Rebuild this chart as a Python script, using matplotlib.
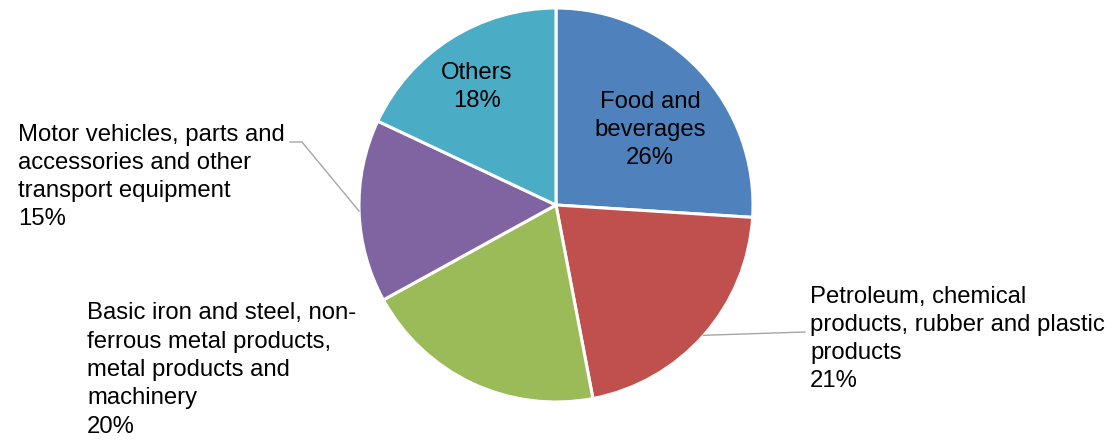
import matplotlib
matplotlib.use("Agg")
import matplotlib.pyplot as plt
import numpy as np

categories = [
    "Food and\nbeverages",
    "Petroleum, chemical\nproducts, rubber and plastic\nproducts",
    "Basic iron and steel, non-\nferrous metal products,\nmetal products and\nmachinery",
    "Motor vehicles, parts and\naccessories and other\ntransport equipment",
    "Others",
]
shares = [26, 21, 20, 15, 18]
colors = ["#4F81BD", "#C0504D", "#9BBB59", "#8064A2", "#4BACC6"]

W, H = 1115, 440
fig = plt.figure(figsize=(11.15, 4.4), dpi=100)
ax = fig.add_axes([0, 0, 1, 1])
cx, cy, R = 556, 205, 197

wedges, _ = ax.pie(shares, colors=colors, startangle=90, counterclock=False,
                   center=(cx, H - cy), radius=R,
                   wedgeprops=dict(edgecolor="white", linewidth=2.2))
ax.set_xlim(0, W)
ax.set_ylim(0, H)
ax.set_aspect("equal")
ax.axis("off")

FONT = ["Liberation Sans", "DejaVu Sans"]
FS = 17.2
LS = 1.37

def lab(i):
    return f"{categories[i]}\n{shares[i]}%"

def edge_point(i, r=R):
    w = wedges[i]
    mid = np.deg2rad((w.theta1 + w.theta2) / 2)
    return cx + r * np.cos(mid), (H - cy) + r * np.sin(mid)

# inside labels
ax.text(650, H - 130, lab(0), ha="center", va="center", fontsize=FS,
        family=FONT, linespacing=LS, color="black")
ax.text(477, H - 87, lab(4), ha="center", va="center", fontsize=FS,
        family=FONT, linespacing=LS, color="black")

# outside labels
ax.text(810, H - 339, lab(1), ha="left", va="center", fontsize=FS,
        family=FONT, linespacing=LS, color="black")
ax.text(87, H - 370, lab(2), ha="left", va="center", fontsize=FS,
        family=FONT, linespacing=LS, color="black")
ax.text(18, H - 177, lab(3), ha="left", va="center", fontsize=FS,
        family=FONT, linespacing=LS, color="black")

# leader lines
lc = "#A6A6A6"
px, py = edge_point(1)
ax.plot([px, 805], [py, H - 332], color=lc, lw=1.0)
px, py = edge_point(3)
ax.plot([290, 302, px], [H - 142, H - 142, py], color=lc, lw=1.0)

fig.savefig("out.png", dpi=100)
